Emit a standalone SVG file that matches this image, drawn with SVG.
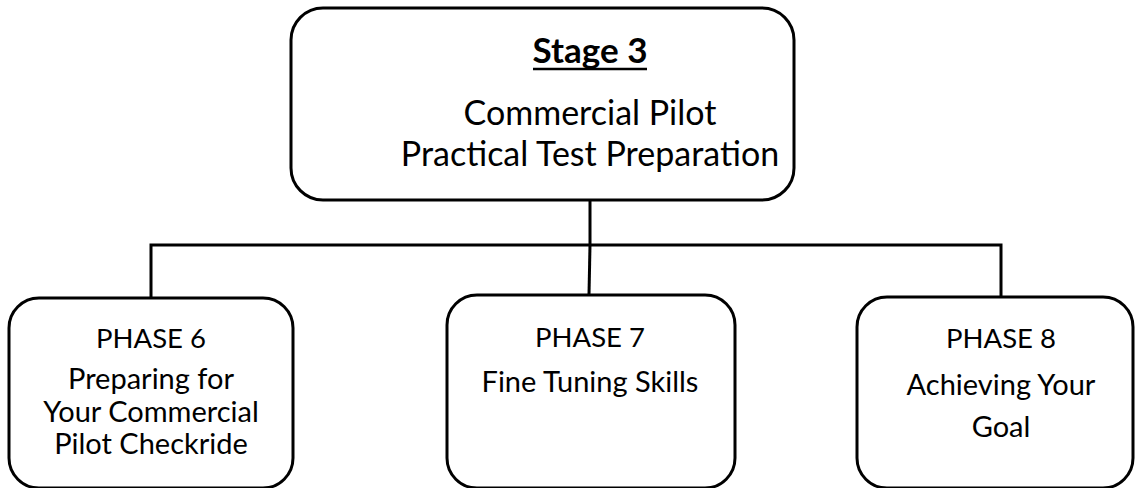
<svg xmlns="http://www.w3.org/2000/svg" width="1141" height="488" viewBox="0 0 1141 488">
<style>
.box{fill:#fff;stroke:#000;stroke-width:3}
.con{fill:none;stroke:#000;stroke-width:3}
.t{font-family:Lato,"Liberation Sans",sans-serif;fill:#000;text-anchor:middle}
.big{font-size:34px}
.ph{font-size:27.5px}
.sub{font-size:29px}
</style>
<rect width="1141" height="488" fill="#fff"/>
<g id="connectors">
<line class="con" x1="590" y1="200" x2="590" y2="245"/>
<polyline class="con" points="151,298 151,245 1001,245 1001,298"/>
<line class="con" x1="590" y1="245" x2="589" y2="295"/>
</g>
<g id="stage3">
<rect class="box" x="291" y="8" width="503" height="192" rx="32"/>
<text class="t" x="590" y="63" font-weight="bold" font-size="35">Stage 3</text>
<line x1="533" y1="69" x2="647" y2="69" stroke="#000" stroke-width="2.5"/>
<text class="t big" x="590" y="125">Commercial Pilot</text>
<text class="t big" x="590" y="166">Practical Test Preparation</text>
</g>
<g id="phase6">
<rect class="box" x="9" y="298" width="284" height="190" rx="30"/>
<text class="t ph" x="151" y="348">PHASE 6</text>
<text class="t sub" x="151" y="389">Preparing for</text>
<text class="t sub" x="151" y="422">Your Commercial</text>
<text class="t sub" x="151" y="454">Pilot Checkride</text>
</g>
<g id="phase7">
<rect class="box" x="447" y="295" width="288" height="193" rx="30"/>
<text class="t ph" x="590" y="347">PHASE 7</text>
<text class="t sub" x="590" y="392">Fine Tuning Skills</text>
</g>
<g id="phase8">
<rect class="box" x="857" y="297" width="276" height="191" rx="30"/>
<text class="t ph" x="1001" y="348">PHASE 8</text>
<text class="t sub" x="1001" y="395">Achieving Your</text>
<text class="t sub" x="1001" y="437">Goal</text>
</g>
</svg>
